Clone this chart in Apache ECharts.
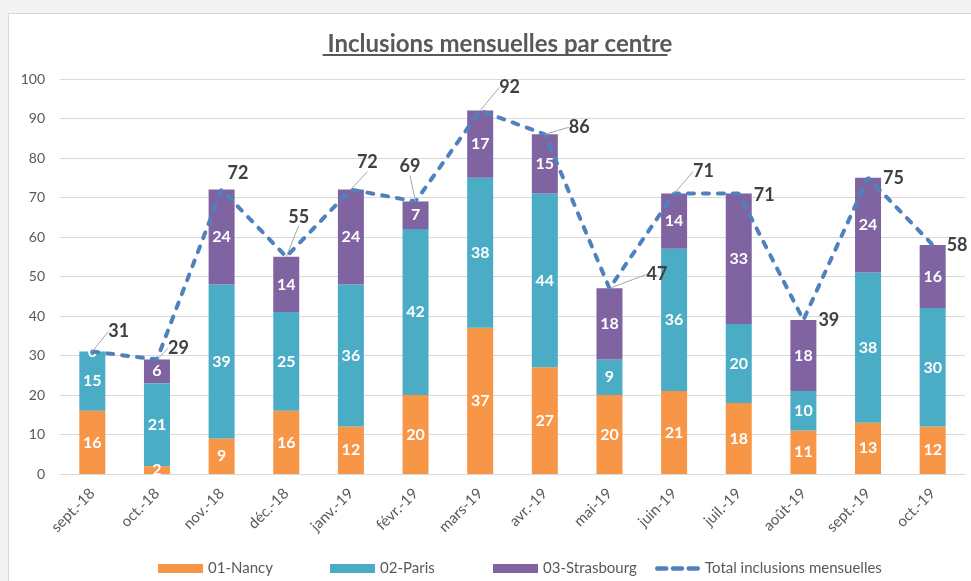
<!DOCTYPE HTML>
<html lang="fr">
  <head>
    <meta charset="utf-8" />
    <script src="https://cdn.jsdelivr.net/npm/echarts@6.0.0/dist/echarts.min.js"></script>
    <style>
      html, body {
        margin: 0;
        padding: 0;
        width: 100%;
        height: 100%;
        overflow: hidden;
        background: #f3f3f3;
      }
      #chart {
        position: absolute;
        left: 8px;
        top: 13px;
        width: 980px;
        height: 580px;
        background: #fff;
        border: 1px solid #d9d9d9;
      }
    </style>
  </head>
  <body>
    <div id="chart"></div>
    <script>
      // months, values per centre, and the monthly total
      var months = ['sept.-18', 'oct.-18', 'nov.-18', 'déc.-18', 'janv.-19', 'févr.-19', 'mars-19',
                    'avr.-19', 'mai-19', 'juin-19', 'juil.-19', 'août-19', 'sept.-19', 'oct.-19'];
      var nancy      = [16, 2, 9, 16, 12, 20, 37, 27, 20, 21, 18, 11, 13, 12];
      var paris      = [15, 21, 39, 25, 36, 42, 38, 44, 9, 36, 20, 10, 38, 30];
      var strasbourg = [0, 6, 24, 14, 24, 7, 17, 15, 18, 14, 33, 18, 24, 16];
      var total      = [31, 29, 72, 55, 72, 69, 92, 86, 47, 71, 71, 39, 75, 58];

      var titleText = 'Inclusions mensuelles par centre';
      var font = 'Lato, "Open Sans", sans-serif';

      // where each total label sits relative to its point, and which ones get a leader line
      var labelShift = [[12, -20], [7, -11], [2, -16], [-2, -40], [2, -27], [-20, -35], [15, -23],
                        [20, -7], [33, -14], [15, -22], [11, 2], [11, 0], [11, 0], [10, 0]];
      var leader = [1, 1, 0, 1, 1, 1, 1, 1, 1, 1, 0, 0, 0, 0];

      // width of the title, for the underline
      var ctx = document.createElement('canvas').getContext('2d');
      ctx.font = 'bold 24px ' + font;
      var titleW = ctx.measureText(titleText).width;
      var titleX = 486;

      var myChart = echarts.init(document.getElementById('chart'));

      var barLabel = {
        show: true,
        position: 'inside',
        color: '#fff',
        fontWeight: 'bold',
        fontSize: 16,
        fontFamily: font
      };

      // one legend per entry so the entries sit in equal slots like the original
      var legendNames = ['01-Nancy', '02-Paris', '03-Strasbourg', 'Total inclusions mensuelles'];
      var legendLeft = [144, 316, 479, 641];
      var dashIcon = 'path://M2,0h8a2,2 0 0 1 0,4h-8a2,2 0 0 1 0,-4z M16,0h8a2,2 0 0 1 0,4h-8a2,2 0 0 1 0,-4z M30,0h8a2,2 0 0 1 0,4h-8a2,2 0 0 1 0,-4z';
      var legends = legendNames.map(function (name, i) {
        return {
          left: legendLeft[i],
          top: 542,
          itemWidth: 45,
          itemHeight: 9,
          textStyle: {color: '#595959', fontSize: 15, fontFamily: font},
          data: [{name: name, icon: i === 3 ? dashIcon : 'rect'}]
        };
      });

      var option = {
        animation: false,
        title: {
          text: titleText,
          left: titleX,
          textAlign: 'center',
          top: 13,
          textStyle: {
            color: '#595959',
            fontSize: 24,
            fontWeight: 'bold',
            fontFamily: font
          }
        },
        graphic: [{
          type: 'line',
          shape: {x1: titleX - titleW / 2, y1: 41, x2: titleX + titleW / 2, y2: 41},
          style: {stroke: '#595959', lineWidth: 2}
        }],
        legend: legends,
        grid: {
          left: 51,
          top: 65,
          width: 905,
          height: 395
        },
        xAxis: {
          type: 'category',
          data: months,
          axisTick: {show: false},
          axisLine: {lineStyle: {color: '#d9d9d9'}},
          axisLabel: {
            rotate: 45,
            margin: 17,
            color: '#595959',
            fontSize: 15,
            fontFamily: font
          }
        },
        yAxis: {
          type: 'value',
          min: 0,
          max: 100,
          interval: 10,
          axisLine: {show: false},
          axisTick: {show: false},
          splitLine: {lineStyle: {color: '#d9d9d9'}},
          axisLabel: {
            margin: 15,
            color: '#595959',
            fontSize: 14,
            fontFamily: font
          }
        },
        series: [{
          name: '01-Nancy',
          type: 'bar',
          stack: 'c',
          barWidth: 26,
          data: nancy,
          itemStyle: {color: '#f79646'},
          label: barLabel
        }, {
          name: '02-Paris',
          type: 'bar',
          stack: 'c',
          barWidth: 26,
          data: paris,
          itemStyle: {color: '#4bacc6'},
          label: barLabel
        }, {
          name: '03-Strasbourg',
          type: 'bar',
          stack: 'c',
          barWidth: 26,
          data: strasbourg,
          itemStyle: {color: '#8064a2'},
          label: barLabel
        }, {
          name: 'Total inclusions mensuelles',
          type: 'line',
          z: 5,
          symbol: 'circle',
          symbolSize: 0.01,
          data: total.map(function (v, i) {
            return {value: v, labelLine: {show: !!leader[i]}};
          }),
          itemStyle: {color: '#4f81bd'},
          lineStyle: {color: '#4f81bd', width: 4, type: [6, 9], cap: 'round'},
          label: {
            show: true,
            position: 'right',
            distance: 4,
            color: '#404040',
            fontWeight: 'bold',
            fontSize: 18,
            fontFamily: font
          },
          labelLine: {
            show: true,
            lineStyle: {color: '#a6a6a6', width: 1}
          },
          labelLayout: function (params) {
            var s = labelShift[params.dataIndex];
            return {dx: s[0], dy: s[1]};
          }
        }]
      };

      myChart.setOption(option);
    </script>
  </body>
</html>
